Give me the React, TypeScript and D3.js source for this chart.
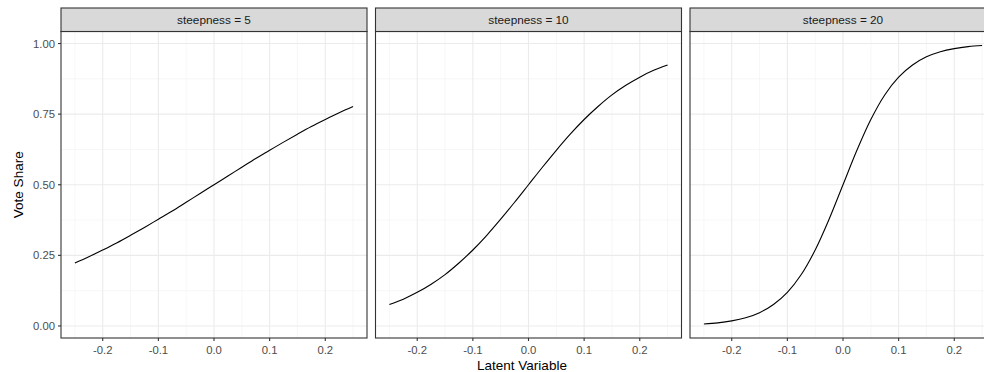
import React from 'react'
import * as d3 from 'd3'

// facets and the curve values
const facets = ['steepness = 5', 'steepness = 10', 'steepness = 20']
const latent = [
  -0.25, -0.225, -0.2, -0.175, -0.15, -0.125, -0.1, -0.075, -0.05, -0.025, 0,
  0.025, 0.05, 0.075, 0.1, 0.125, 0.15, 0.175, 0.2, 0.225, 0.25,
]
const share5 = [
  0.223, 0.245, 0.269, 0.294, 0.321, 0.349, 0.378, 0.407, 0.438, 0.469, 0.5,
  0.531, 0.562, 0.593, 0.622, 0.651, 0.679, 0.706, 0.731, 0.755, 0.777,
]
const share10 = [
  0.076, 0.095, 0.119, 0.148, 0.182, 0.223, 0.269, 0.321, 0.378, 0.438, 0.5,
  0.562, 0.622, 0.679, 0.731, 0.777, 0.818, 0.852, 0.881, 0.905, 0.924,
]
const share20 = [
  0.007, 0.011, 0.018, 0.029, 0.047, 0.076, 0.119, 0.182, 0.269, 0.378, 0.5,
  0.622, 0.731, 0.818, 0.881, 0.924, 0.953, 0.971, 0.982, 0.989, 0.993,
]
const series = [share5, share10, share20]
const xTicks = [-0.2, -0.1, 0, 0.1, 0.2]
const xMinor = [-0.25, -0.15, -0.05, 0.05, 0.15, 0.25]
const yTicks = [0, 0.25, 0.5, 0.75, 1]
const yMinor = [0.125, 0.375, 0.625, 0.875]

const width = 984
const height = 372
const panelW = 306
const gap = 8.5
const left0 = 61
const stripTop = 8
const top = 31.5
const bottom = 338
const font = '"Liberation Sans", Arial, Helvetica, sans-serif'

export default function App() {
  const x = d3.scaleLinear().domain([-0.275, 0.275]).range([0, panelW])
  const y = d3.scaleLinear().domain([-0.0426, 1.0426]).range([bottom, top])
  const line = d3
    .line<number>()
    .x((_, i) => x(latent[i]))
    .y((d) => y(d))
    .curve(d3.curveCatmullRom)

  return (
    <svg
      width={width}
      height={height}
      style={{ position: 'absolute', left: 0, top: 0, fontFamily: font }}
    >
      <rect width={width} height={height} fill="#fff" />
      {facets.map((f, k) => {
        const px = left0 + k * (panelW + gap)
        return (
          <g key={f} transform={`translate(${px},0)`}>
            {/* grid */}
            {xMinor.map((t) => (
              <line key={'xm' + t} x1={x(t)} x2={x(t)} y1={top} y2={bottom} stroke="#f2f2f2" strokeWidth={0.6} />
            ))}
            {yMinor.map((t) => (
              <line key={'ym' + t} x1={0} x2={panelW} y1={y(t)} y2={y(t)} stroke="#f2f2f2" strokeWidth={0.6} />
            ))}
            {xTicks.map((t) => (
              <line key={'xg' + t} x1={x(t)} x2={x(t)} y1={top} y2={bottom} stroke="#ebebeb" strokeWidth={1.1} />
            ))}
            {yTicks.map((t) => (
              <line key={'yg' + t} x1={0} x2={panelW} y1={y(t)} y2={y(t)} stroke="#ebebeb" strokeWidth={1.1} />
            ))}
            <path d={line(series[k]) ?? ''} fill="none" stroke="#000" strokeWidth={1.1} />
            <rect x={0} y={top} width={panelW} height={bottom - top} fill="none" stroke="#333" strokeWidth={1.1} />
            {/* strip */}
            <rect x={0} y={stripTop} width={panelW} height={top - stripTop} fill="#d9d9d9" stroke="#333" strokeWidth={1.1} />
            <text x={panelW / 2} y={(stripTop + top) / 2} dy="0.35em" textAnchor="middle" fontSize={11.8} fill="#1a1a1a">
              {f}
            </text>
            {/* x axis */}
            {xTicks.map((t) => (
              <g key={'xt' + t} transform={`translate(${x(t)},${bottom})`}>
                <line y2={3} stroke="#333" strokeWidth={1.1} />
                <text y={12.3} dy="0.35em" textAnchor="middle" fontSize={11.3} fill="#4d4d4d">
                  {d3.format('.1f')(t).replace('−', '-')}
                </text>
              </g>
            ))}
          </g>
        )
      })}
      {/* y axis on first panel */}
      {yTicks.map((t) => (
        <g key={'yt' + t} transform={`translate(${left0},${y(t)})`}>
          <line x2={-3} stroke="#333" strokeWidth={1.1} />
          <text x={-6} dy="0.35em" textAnchor="end" fontSize={11.3} fill="#4d4d4d">
            {d3.format('.2f')(t)}
          </text>
        </g>
      ))}
      <text x={522} y={370} textAnchor="middle" fontSize={13.5} fill="#000">
        Latent Variable
      </text>
      <text
        transform={`translate(${18},${(top + bottom) / 2}) rotate(-90)`}
        dy="0.35em"
        textAnchor="middle"
        fontSize={13.5}
        fill="#000"
      >
        Vote Share
      </text>
    </svg>
  )
}
